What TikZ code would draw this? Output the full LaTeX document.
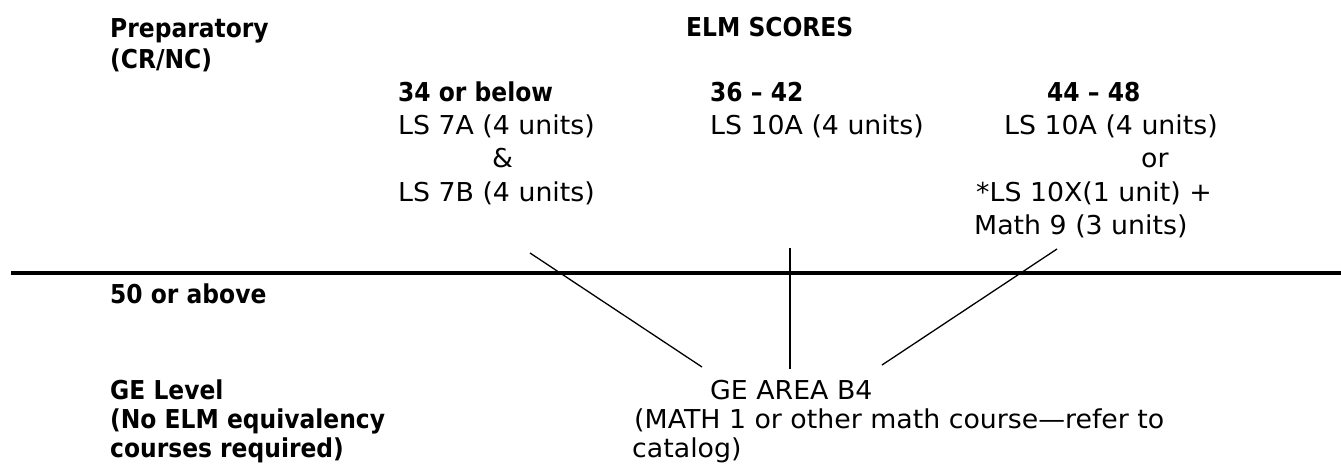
\documentclass[tikz,border=0pt]{standalone}
\usepackage{fontspec}
\newfontfamily\rgfont{DejaVu Sans}[FakeStretch=1.03]
\newfontfamily\bdfont{DejaVu Sans Bold}[FakeStretch=0.90]
\tikzset{
  rg/.style={anchor=base west, inner sep=0pt, font=\rgfont\fontsize{26}{33}\selectfont},
  bd/.style={anchor=base west, inner sep=0pt, font=\bdfont\fontsize{26}{33}\selectfont},
  link/.style={line width=1.3pt},
  rulerline/.style={line width=3.2pt}
}
\begin{document}
\begin{tikzpicture}[x=1pt,y=-1pt]
\useasboundingbox (0,0) rectangle (1341,465);
% left column
\node[bd] (prep) at (110,38) {Preparatory};
\node[bd] (crnc) at (110,68.5) {(CR/NC)};
\node[bd] (s50) at (110,303) {50 or above};
\node[bd] (ge1) at (110,399) {GE Level};
\node[bd] (ge2) at (110,428) {(No ELM equivalency};
\node[bd] (ge3) at (110,457) {courses required)};
% header
\node[bd] (elm) at (686,37) {ELM SCORES};
% score columns
\node[bd] (s34) at (398,102) {34 or below};
\node[rg] (ls7a) at (398,135) {LS 7A (4 units)};
\node[rg] (amp) at (492,168) {\&};
\node[rg] (ls7b) at (398,202) {LS 7B (4 units)};
\node[bd] (s36) at (710,102) {36 – 42};
\node[rg] (ls10a) at (710,135) {LS 10A (4 units)};
\node[bd] (s44) at (1047,102) {44 – 48};
\node[rg] (ls10b) at (1004,135) {LS 10A (4 units)};
\node[rg] (or) at (1141,168) {or};
\node[rg] (ls10x) at (976,202) {*LS 10X(1 unit) +};
\node[rg] (m9) at (974,234) {Math 9 (3 units)};
% GE area
\node[rg] (b4) at (710,399) {GE AREA B4};
\node[rg] (b4b) at (634,428) {(MATH 1 or other math course—refer to};
\node[rg] (b4c) at (632,457) {catalog)};
% horizontal rule
\coordinate (ruleL) at (11,273);
\coordinate (ruleR) at (1341,273);
\draw[rulerline] (ruleL) -- (ruleR);
% connectors
\coordinate (la) at (530,253);
\coordinate (lb) at (702,367);
\coordinate (va) at (790,248);
\coordinate (vb) at (790,369);
\coordinate (ra) at (1057,249);
\coordinate (rb) at (882,365);
\draw[link] (la) -- (lb);
\draw[link] (va) -- (vb);
\draw[link] (ra) -- (rb);
\end{tikzpicture}
\end{document}
